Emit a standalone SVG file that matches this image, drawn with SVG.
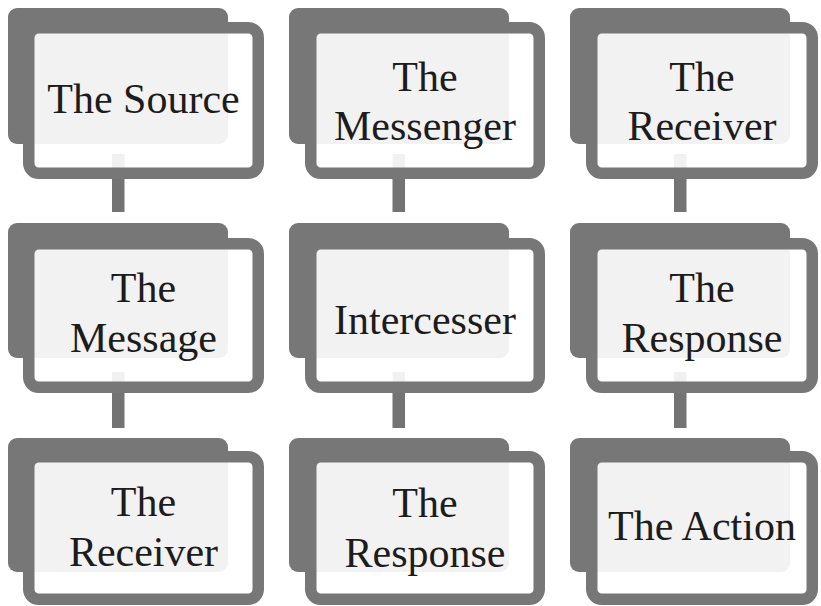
<svg xmlns="http://www.w3.org/2000/svg" width="821" height="606" viewBox="0 0 821 606">
<style>
.back{fill:#777777}
.front{fill:#ffffff;fill-opacity:0.9;stroke:#777777;stroke-width:11.5}
.conn{fill:#737373}
text{font-family:"Liberation Serif","Times New Roman",serif;font-size:42px;fill:#1c1c1c;text-anchor:middle}
</style>
<rect width="821" height="606" fill="#ffffff"/>
<g id="connectors">
<rect class="conn" x="112" y="154" width="12.5" height="58"/>
<rect class="conn" x="392.5" y="154" width="12.5" height="58"/>
<rect class="conn" x="674" y="154" width="12.5" height="58"/>
<rect class="conn" x="112" y="372" width="12.5" height="56"/>
<rect class="conn" x="392.5" y="372" width="12.5" height="56"/>
<rect class="conn" x="674" y="372" width="12.5" height="56"/>
</g>
<g id="source">
<rect class="back" x="8" y="8" width="220" height="136" rx="9"/>
<rect class="front" x="28.75" y="27.75" width="229.5" height="145.5" rx="10"/>
<text x="143.5" y="113">The Source</text>
</g>
<g id="messenger">
<rect class="back" x="289" y="8" width="220" height="136" rx="9"/>
<rect class="front" x="310.75" y="27.75" width="228.5" height="145.5" rx="10"/>
<text x="425" y="90.5">The</text>
<text x="425" y="140">Messenger</text>
</g>
<g id="receiver1">
<rect class="back" x="570" y="8" width="220" height="136" rx="9"/>
<rect class="front" x="591.75" y="27.75" width="220.5" height="145.5" rx="10"/>
<text x="702" y="90.5">The</text>
<text x="702" y="140">Receiver</text>
</g>
<g id="message">
<rect class="back" x="8" y="223" width="220" height="135" rx="9"/>
<rect class="front" x="28.75" y="243.75" width="229.5" height="143.5" rx="10"/>
<text x="143.5" y="302">The</text>
<text x="143.5" y="352">Message</text>
</g>
<g id="intercesser">
<rect class="back" x="289" y="223" width="220" height="135" rx="9"/>
<rect class="front" x="310.75" y="243.75" width="228.5" height="143.5" rx="10"/>
<text x="425" y="334">Intercesser</text>
</g>
<g id="response1">
<rect class="back" x="570" y="223" width="220" height="135" rx="9"/>
<rect class="front" x="591.75" y="243.75" width="220.5" height="143.5" rx="10"/>
<text x="702" y="302">The</text>
<text x="702" y="352">Response</text>
</g>
<g id="receiver2">
<rect class="back" x="8" y="438" width="220" height="134" rx="9"/>
<rect class="front" x="28.75" y="456.75" width="229.5" height="142.5" rx="10"/>
<text x="143.5" y="516">The</text>
<text x="143.5" y="566">Receiver</text>
</g>
<g id="response2">
<rect class="back" x="289" y="438" width="220" height="134" rx="9"/>
<rect class="front" x="310.75" y="456.75" width="228.5" height="142.5" rx="10"/>
<text x="425" y="517">The</text>
<text x="425" y="567">Response</text>
</g>
<g id="action">
<rect class="back" x="570" y="438" width="220" height="134" rx="9"/>
<rect class="front" x="591.75" y="456.75" width="220.5" height="142.5" rx="10"/>
<text x="702" y="540">The Action</text>
</g>
</svg>
